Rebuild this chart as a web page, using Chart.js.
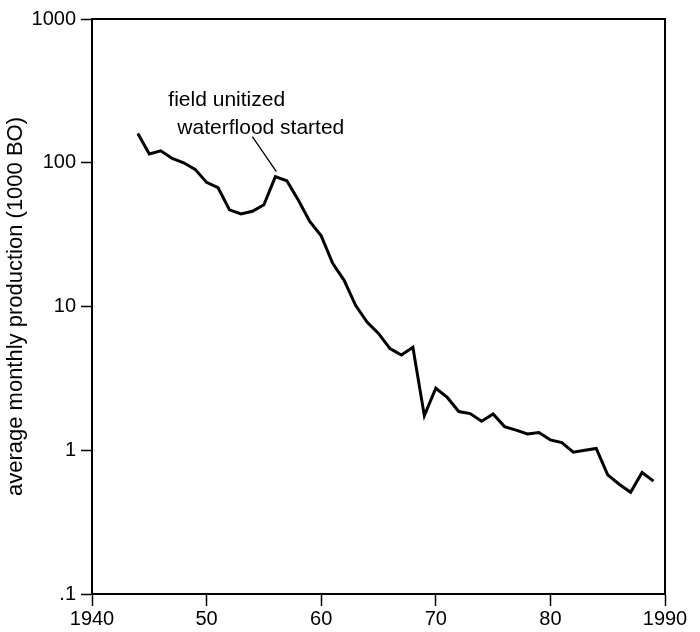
<!DOCTYPE html>
<html>
<head>
<meta charset="utf-8">
<title>Average monthly production</title>
<script src="https://cdn.jsdelivr.net/npm/chart.js@4.4.1/dist/chart.umd.min.js"></script>
<style>
    html, body { margin: 0; padding: 0; background: #fff; }
    #wrap { width: 700px; height: 632px; }
</style>
</head>
<body>
<div id="wrap"><canvas id="productionChart" width="700" height="632"></canvas></div>
<script>
// data (one value per year)
const years = [
    1944, 1945, 1946, 1947, 1948, 1949, 1950, 1951, 1952, 1953,
    1954, 1955, 1956, 1957, 1958, 1959, 1960, 1961, 1962, 1963,
    1964, 1965, 1966, 1967, 1968, 1969, 1970, 1971, 1972, 1973,
    1974, 1975, 1976, 1977, 1978, 1979, 1980, 1981, 1982, 1983,
    1984, 1985, 1986, 1987, 1988, 1989
];
const production = [
    160, 115, 121, 107, 100, 90, 73, 67, 47, 44,
    46, 51, 80, 75, 55, 39, 31, 20, 15.2, 10.2,
    7.8, 6.5, 5.1, 4.6, 5.2, 1.74, 2.7, 2.33, 1.86, 1.80,
    1.59, 1.79, 1.46, 1.38, 1.30, 1.33, 1.18, 1.13, 0.97, 1.0,
    1.03, 0.675, 0.58, 0.51, 0.70, 0.61
];
const xTicks = [1940, 1950, 1960, 1970, 1980, 1990];
const yTicks = [0.1, 1, 10, 100, 1000];
const yTickLabels = ['.1', '1', '10', '100', '1000'];

// annotation hangs off the 1956 peak
const noteYear = 1956;
const noteValue = 80;
const noteLines = ['field unitized', 'waterflood started'];

const FONT = "'Liberation Sans', Arial, Helvetica, sans-serif";

// box around the plot area (top + right edges)
const frame = {
    id: 'frame',
    afterDraw(chart) {
        const a = chart.chartArea;
        const c = chart.ctx;
        c.save();
        c.strokeStyle = '#000';
        c.lineWidth = 2;
        c.strokeRect(a.left, a.top, a.right - a.left, a.bottom - a.top);
        c.restore();
    }
};

const note = {
    id: 'note',
    afterDatasetsDraw(chart) {
        const c = chart.ctx;
        const px = chart.scales.x.getPixelForValue(noteYear);
        const py = chart.scales.y.getPixelForValue(noteValue);
        c.save();
        c.strokeStyle = '#000';
        c.lineWidth = 1.3;
        c.beginPath();
        c.moveTo(px - 23, py - 40);
        c.lineTo(px + 1, py - 5);
        c.stroke();
        c.fillStyle = '#000';
        c.font = '21px ' + FONT;
        c.textAlign = 'left';
        c.textBaseline = 'alphabetic';
        c.fillText(noteLines[0], px - 107, py - 71);
        c.fillText(noteLines[1], px - 98, py - 43);
        c.restore();
    }
};

const ctx = document.getElementById('productionChart').getContext('2d');
new Chart(ctx, {
    type: 'line',
    data: {
        datasets: [{
            data: years.map((y, i) => ({ x: y, y: production[i] })),
            borderColor: '#000',
            borderWidth: 3,
            pointRadius: 0,
            tension: 0,
            fill: false
        }]
    },
    options: {
        responsive: false,
        animation: false,
        layout: { padding: { top: 19, right: 35, bottom: 0, left: 0 } },
        plugins: {
            legend: { display: false },
            tooltip: { enabled: false }
        },
        scales: {
            x: {
                type: 'linear',
                min: 1940,
                max: 1990,
                afterBuildTicks: function (scale) {
                    scale.ticks = xTicks.map(v => ({ value: v }));
                },
                afterFit: function (scale) {
                    scale.height = 38;
                },
                ticks: {
                    color: '#000',
                    font: { family: FONT, size: 20 },
                    padding: 1,
                    maxRotation: 0,
                    callback: function (value) {
                        return (value === 1940 || value === 1990) ? String(value) : String(value % 100);
                    }
                },
                grid: {
                    drawOnChartArea: false,
                    drawTicks: true,
                    tickLength: 12,
                    tickColor: '#000',
                    tickWidth: 1.5
                },
                border: { display: true, color: '#000', width: 2 }
            },
            y: {
                type: 'logarithmic',
                min: 0.1,
                max: 1000,
                afterBuildTicks: function (scale) {
                    scale.ticks = yTicks.map(v => ({ value: v }));
                },
                afterFit: function (scale) {
                    scale.width = 92;
                },
                ticks: {
                    color: '#000',
                    font: { family: FONT, size: 20 },
                    padding: 5,
                    callback: function (value) {
                        const i = yTicks.findIndex(t => Math.abs(t - value) < t * 1e-6);
                        return i >= 0 ? yTickLabels[i] : '';
                    }
                },
                grid: {
                    drawOnChartArea: false,
                    drawTicks: true,
                    tickLength: 11,
                    tickColor: '#000',
                    tickWidth: 1.5
                },
                border: { display: true, color: '#000', width: 2 },
                title: {
                    display: true,
                    text: 'average monthly production (1000 BO)',
                    color: '#000',
                    font: { family: FONT, size: 22 },
                    padding: { top: 3, bottom: 0 }
                }
            }
        }
    },
    plugins: [frame, note]
});
</script>
</body>
</html>
